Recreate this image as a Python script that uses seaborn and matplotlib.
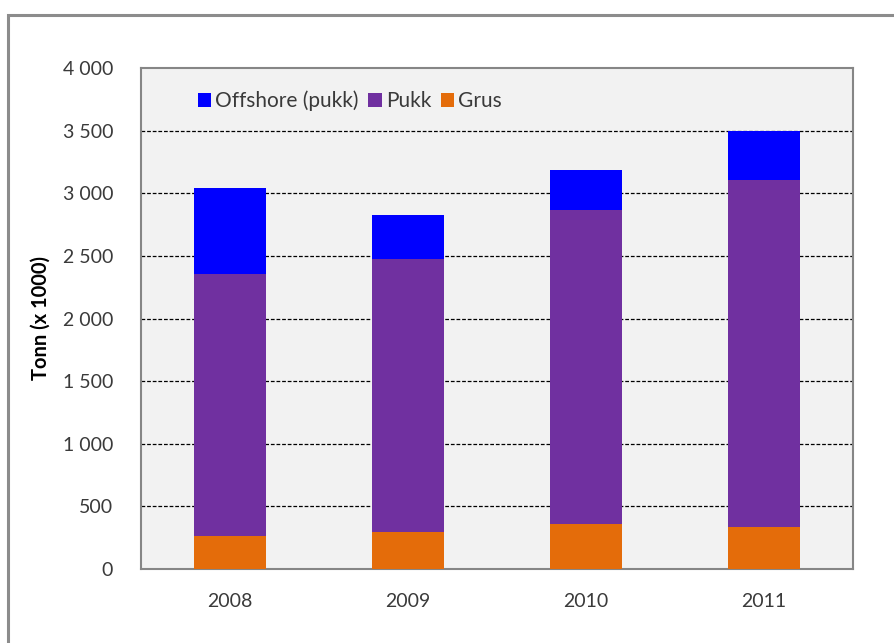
import matplotlib
matplotlib.use("Agg")
import matplotlib.pyplot as plt
from matplotlib.patches import Rectangle, Patch
import numpy as np
import pandas as pd
import seaborn as sns

years = ["2008", "2009", "2010", "2011"]
grus = [260, 292, 358, 338]
pukk = [2092, 2186, 2510, 2766]
offshore = [693, 348, 318, 396]
series_names = ["Offshore (pukk)", "Pukk", "Grus"]
series_colors = ["#0000FF", "#7030A0", "#E46C0A"]
yticks = [0, 500, 1000, 1500, 2000, 2500, 3000, 3500, 4000]
ytick_labels = ["0", "500", "1 000", "1 500", "2 000", "2 500", "3 000", "3 500", "4 000"]

sns.set_theme(style="white")
plt.rcParams["font.family"] = ["Lato", "DejaVu Sans"]

df = pd.DataFrame({"year": years, "grus": grus, "pukk": pukk, "offshore": offshore})
df["top_pukk"] = df["grus"] + df["pukk"]
df["top_all"] = df["top_pukk"] + df["offshore"]

fig = plt.figure(figsize=(8.94, 6.43), dpi=100)
fig.patch.set_facecolor("white")
W, H = 894, 643
ax = fig.add_axes([141 / W, 1 - 569 / H, 712 / W, 501 / H])
ax.set_facecolor("#F2F2F2")

# stacked columns: draw cumulative heights from the tallest layer down
for col, color in zip(["top_all", "top_pukk", "grus"], series_colors):
    sns.barplot(data=df, x="year", y=col, color=color, width=0.4,
                saturation=1, ax=ax, linewidth=0, zorder=3)

ax.set_xlim(-0.5, 3.5)
ax.set_ylim(0, 4000)
ax.set_yticks(yticks)
ax.set_yticklabels(ytick_labels)
for y in yticks[1:-1]:
    ax.axhline(y, color="black", linestyle=(0, (3, 1.5)), linewidth=0.9, zorder=2)

for s in ax.spines.values():
    s.set_color("#868686")
    s.set_linewidth(1.5)

ax.tick_params(axis="both", length=0, labelsize=14, colors="#3A3A3A")
ax.tick_params(axis="y", pad=20)
ax.tick_params(axis="x", pad=17)
ax.set_xlabel("")
ax.set_ylabel("Tonn (x 1000)", fontsize=14.5, fontweight="bold", color="black", labelpad=9)

handles = [Patch(facecolor=c, edgecolor="none") for c in series_colors]
ax.legend(handles, series_names, loc="center left", bbox_to_anchor=(0.065, 0.934),
          ncol=3, frameon=False, fontsize=15, handlelength=0.65, handleheight=0.65,
          handletextpad=0.2, columnspacing=0.45, borderpad=0, labelcolor="#3A3A3A")

# outer chart frame
fig.add_artist(Rectangle((8 / W, -0.1), 1.2, 1.1 - 15 / H, transform=fig.transFigure,
                         fill=False, edgecolor="#8C8C8C", linewidth=2.2))

fig.savefig("out.png", dpi=100, facecolor="white")
